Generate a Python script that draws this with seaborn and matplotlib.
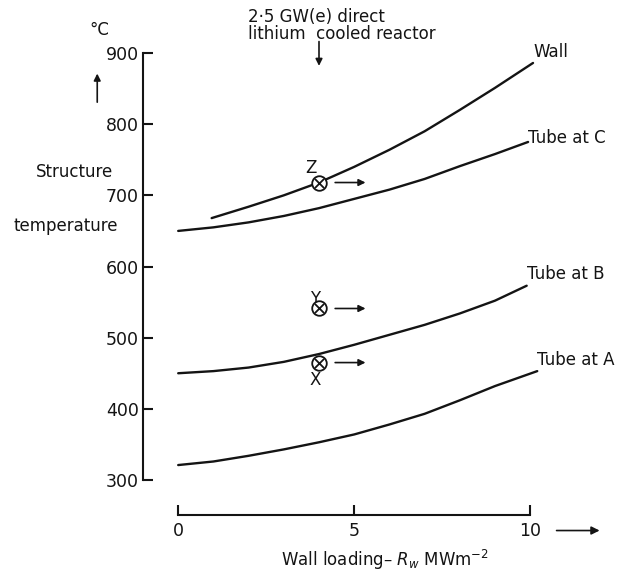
import matplotlib
matplotlib.use("Agg")
import matplotlib.pyplot as plt
import seaborn as sns
import pandas as pd

# curve data (wall loading MW/m2, temperature degC)
wall_x = [0.95, 2, 3, 4, 5, 6, 7, 8, 9, 10.08]
wall_y = [668, 684, 700, 718, 740, 764, 790, 820, 851, 886]
tube_c_x = [0, 1, 2, 3, 4, 5, 6, 7, 8, 9, 9.94]
tube_c_y = [650, 655, 662, 671, 682, 695, 708, 723, 741, 758, 775]
tube_b_x = [0, 1, 2, 3, 4, 5, 6, 7, 8, 9, 9.9]
tube_b_y = [450, 453, 458, 466, 477, 490, 504, 518, 534, 552, 573]
tube_a_x = [0, 1, 2, 3, 4, 5, 6, 7, 8, 9, 10.2]
tube_a_y = [321, 326, 334, 343, 353, 364, 378, 393, 412, 432, 453]

curve_names = ["Wall", "Tube at C", "Tube at B", "Tube at A"]

# operating points of the 2.5 GW(e) reactor
point_names = ["Z", "Y", "X"]
point_x = [4.0, 4.0, 4.0]
point_y = [718, 541, 465]

x_ticks = [0, 5, 10]
y_ticks = [300, 400, 500, 600, 700, 800, 900]

sns.set_style("ticks")
plt.rcParams["font.family"] = ["DejaVu Sans"]
plt.rcParams["font.size"] = 12

ink = "#141414"

fig = plt.figure(figsize=(6.27, 5.73), dpi=100)
ax = fig.add_axes([143 / 627, 1 - 480 / 573, 484 / 627, 427 / 573])

frames = []
for name, xs, ys in zip(curve_names,
                        [wall_x, tube_c_x, tube_b_x, tube_a_x],
                        [wall_y, tube_c_y, tube_b_y, tube_a_y]):
    frames.append(pd.DataFrame({"x": xs, "y": ys, "curve": name}))
df = pd.concat(frames, ignore_index=True)

sns.lineplot(data=df, x="x", y="y", units="curve", estimator=None,
             color=ink, linewidth=1.7, sort=False, ax=ax)

# curve labels at the right ends
ends = df.groupby("curve", sort=False).last()
label_dy = {"Wall": 15, "Tube at C": 6, "Tube at B": 16, "Tube at A": 16}
for name in curve_names:
    ax.text(ends.loc[name, "x"], ends.loc[name, "y"] + label_dy[name], name,
            ha="left", va="center", fontsize=12, color=ink)

# crossed-circle markers with arrows
pts = pd.DataFrame({"x": point_x, "y": point_y, "name": point_names})
sns.scatterplot(data=pts, x="x", y="y", marker="o", s=110,
                facecolor="white", edgecolor=ink, linewidth=1.3, zorder=4, ax=ax)
sns.scatterplot(data=pts, x="x", y="y", marker="x", s=45,
                color=ink, linewidth=1.3, zorder=5, ax=ax)
name_off = {"Z": (-0.22, 21), "Y": (-0.11, 14), "X": (-0.11, -25)}
for _, r in pts.iterrows():
    dx, dy = name_off[r["name"]]
    ax.text(r["x"] + dx, r["y"] + dy, r["name"], ha="center", va="center",
            fontsize=12, color=ink)
    ax.annotate("", xy=(5.4, r["y"]), xytext=(4.38, r["y"]),
                arrowprops=dict(arrowstyle="-|>", color=ink, lw=1.2,
                                mutation_scale=10))

# axes styling
ax.set_xlim(-1, 12.75)
ax.set_ylim(300, 900)
ax.set_xticks(x_ticks)
ax.set_yticks(y_ticks)
ax.spines["top"].set_visible(False)
ax.spines["right"].set_visible(False)
ax.spines["left"].set_bounds(300, 900)
ax.spines["bottom"].set_bounds(0, 10)
ax.spines["bottom"].set_position(("outward", 25))
for s in ["left", "bottom"]:
    ax.spines[s].set_linewidth(1.5)
    ax.spines[s].set_color(ink)
ax.tick_params(axis="both", direction="in", length=7, width=1.5,
               colors=ink, labelsize=12.5, pad=3)
ax.tick_params(axis="x", pad=5)
ax.set_xlabel("Wall loading\u2013 $R_w$ MWm$^{-2}$", fontsize=12, labelpad=6,
              color=ink)
ax.set_ylabel("")

# arrow after the "10" label
ax.annotate("", xy=(12.05, 229), xytext=(10.67, 229), annotation_clip=False,
            arrowprops=dict(arrowstyle="-|>", color=ink, lw=1.2,
                            mutation_scale=12))

# y-axis caption
ax.text(-2.25, 933, "\u00b0C", ha="center", va="center", fontsize=12, color=ink)
ax.annotate("", xy=(-2.3, 875), xytext=(-2.3, 827), annotation_clip=False,
            arrowprops=dict(arrowstyle="-|>", color=ink, lw=1.2,
                            mutation_scale=10))
ax.text(-2.95, 733, "Structure", ha="center", va="center", fontsize=12,
        color=ink)
ax.text(-3.2, 657, "temperature", ha="center", va="center", fontsize=12,
        color=ink)

# reactor annotation
ax.text(1.99, 950, "2\u00b75 GW(e) direct", ha="left", va="center",
        fontsize=12, color=ink)
ax.text(1.99, 927, "lithium  cooled reactor", ha="left", va="center",
        fontsize=12, color=ink)
ax.annotate("", xy=(4.0, 878), xytext=(4.0, 920), annotation_clip=False,
            arrowprops=dict(arrowstyle="-|>", color=ink, lw=1.2,
                            mutation_scale=10))

fig.savefig("out.png", dpi=100, facecolor="white")
